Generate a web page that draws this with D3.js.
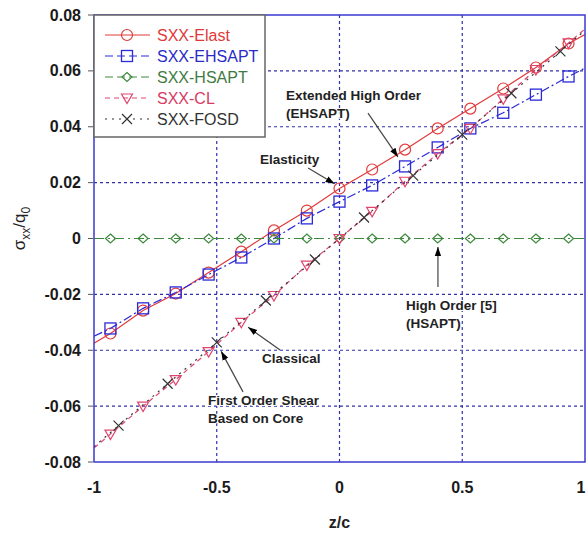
<!DOCTYPE html>
<html>
<head>
<meta charset="utf-8">
<script src="https://cdn.jsdelivr.net/npm/d3@7"></script>
<style>
  body { margin: 0; background: #fff; }
  svg text { font-family: "Liberation Sans", Arial, sans-serif; }
</style>
</head>
<body>
<div id="chart"></div>
<script>
// z/c positions of the markers
const zMark = [-0.933, -0.8, -0.667, -0.533, -0.4, -0.267, -0.133, 0, 0.133, 0.267, 0.4, 0.533, 0.667, 0.8, 0.933];
const zFosd = [-0.9, -0.7, -0.5, -0.3, -0.1, 0.1, 0.3, 0.5, 0.7, 0.9];

// sigma_xx/q0 values (first and last are the line ends at z/c = -1 and 1)
const elastVals  = [-0.0375, -0.034, -0.0258, -0.0197, -0.0122, -0.0047, 0.0029, 0.0100, 0.0179, 0.0247, 0.0318, 0.0394, 0.0465, 0.0537, 0.0612, 0.0698, 0.0730];
const ehsaptVals = [-0.0350, -0.0322, -0.0250, -0.0193, -0.0129, -0.0068, 0.0000, 0.0072, 0.0132, 0.0190, 0.0258, 0.0326, 0.0394, 0.0450, 0.0515, 0.0580, 0.0610];
const hsaptVals  = [0, 0, 0, 0, 0, 0, 0, 0, 0, 0, 0, 0, 0, 0, 0, 0, 0];
const clVals     = [-0.0750, -0.0700, -0.0600, -0.0505, -0.0405, -0.0300, -0.0204, -0.0095, 0.0000, 0.0097, 0.0205, 0.0304, 0.0394, 0.0500, 0.0605, 0.0700, 0.0750];
const fosdVals   = [-0.0745, -0.0670, -0.0520, -0.0372, -0.0222, -0.0075, 0.0075, 0.0225, 0.0372, 0.0520, 0.0670, 0.0745];

const xTicks = [-1, -0.5, 0, 0.5, 1];
const xTickLabels = ["-1", "-0.5", "0", "0.5", "1"];
const yTicks = [-0.08, -0.06, -0.04, -0.02, 0, 0.02, 0.04, 0.06, 0.08];
const yTickLabels = ["-0.08", "-0.06", "-0.04", "-0.02", "0", "0.02", "0.04", "0.06", "0.08"];
const legendNames = ["SXX-Elast", "SXX-EHSAPT", "SXX-HSAPT", "SXX-CL", "SXX-FOSD"];

// annotations: text lines at (tx,ty), arrow from (ax,ay) to (bx,by), all in data units
const notes = [
  {lines: ["Elasticity"], tx: -0.324, ty: 0.0265, ax: -0.128, ay: 0.0252, bx: -0.02, by: 0.0196},
  {lines: ["Extended High Order", "(EHSAPT)"], tx: -0.218, ty: 0.0494, ax: 0.116, ay: 0.0449, bx: 0.238, by: 0.0292},
  {lines: ["High Order [5]", "(HSAPT)"], tx: 0.271, ty: -0.0256, ax: 0.401, ay: -0.0174, bx: 0.401, by: -0.0030},
  {lines: ["Classical"], tx: -0.316, ty: -0.0446, ax: -0.242, ay: -0.0399, bx: -0.372, by: -0.0318},
  {lines: ["First Order Shear", "Based on Core"], tx: -0.536, ty: -0.0596, ax: -0.393, ay: -0.0549, bx: -0.482, by: -0.0404}
];

const W = 587, H = 535;
const margin = {left: 94, right: 2, top: 15, bottom: 73};
const width = W - margin.left - margin.right;
const height = H - margin.top - margin.bottom;

const svg = d3.select("#chart").append("svg").attr("width", W).attr("height", H);
const g = svg.append("g").attr("transform", "translate(" + margin.left + "," + margin.top + ")");

const x = d3.scaleLinear().domain([-1, 1]).range([0, width]);
const y = d3.scaleLinear().domain([-0.08, 0.08]).range([height, 0]);

const axisBlue = "#3a3ad0";
const gridBlue = "#3030a8";

svg.append("defs").append("clipPath").attr("id", "clip")
  .append("rect").attr("width", width).attr("height", height);
svg.select("defs").append("marker")
  .attr("id", "arrow").attr("viewBox", "0 0 10 10").attr("refX", 10).attr("refY", 5)
  .attr("markerWidth", 9).attr("markerHeight", 9).attr("orient", "auto-start-reverse")
  .attr("markerUnits", "userSpaceOnUse")
  .append("path").attr("d", "M0,1.5 L10,5 L0,8.5 Z").attr("fill", "#000");

// grid
g.selectAll(".gy").data(yTicks.filter(d => Math.abs(d) < 0.08 && d !== 0)).enter().append("line")
  .attr("x1", 0).attr("x2", width).attr("y1", d => y(d)).attr("y2", d => y(d))
  .attr("stroke", gridBlue).attr("stroke-width", 1.2).attr("stroke-dasharray", "3,3");
g.selectAll(".gx").data(xTicks.filter(d => Math.abs(d) < 1)).enter().append("line")
  .attr("y1", 0).attr("y2", height).attr("x1", d => x(d)).attr("x2", d => x(d))
  .attr("stroke", gridBlue).attr("stroke-width", 1.2).attr("stroke-dasharray", "3,3");

// series
const series = [
  {name: legendNames[0], z: [-1, ...zMark, 1], v: elastVals,  color: "#e23a3a", text: "#e03838", dash: null, sym: "circle"},
  {name: legendNames[1], z: [-1, ...zMark, 1], v: ehsaptVals, color: "#2a2ad8", text: "#2a2ac8", dash: "9,3,2,3", sym: "square"},
  {name: legendNames[2], z: [-1, ...zMark, 1], v: hsaptVals,  color: "#3d8a3d", text: "#3f7a3f", dash: "10,4,2,4", sym: "diamond"},
  {name: legendNames[3], z: [-1, ...zMark, 1], v: clVals,     color: "#e0456e", text: "#d83a64", dash: "5,4", sym: "tri"},
  {name: legendNames[4], z: [-1, ...zFosd, 1], v: fosdVals,   color: "#333333", text: "#333333", dash: "2,5", sym: "cross"}
];

function drawSymbol(sel, sym, color) {
  if (sym === "circle") {
    sel.append("circle").attr("r", 5.5).attr("fill", "none").attr("stroke", color).attr("stroke-width", 1.2);
  } else if (sym === "square") {
    sel.append("rect").attr("x", -5.5).attr("y", -5.5).attr("width", 11).attr("height", 11)
      .attr("fill", "none").attr("stroke", color).attr("stroke-width", 1.3);
  } else if (sym === "diamond") {
    sel.append("path").attr("d", "M0,-4.5 L5,0 L0,4.5 L-5,0 Z").attr("fill", "none").attr("stroke", color).attr("stroke-width", 1.2);
  } else if (sym === "tri") {
    sel.append("path").attr("d", "M-5.5,-4 L5.5,-4 L0,5.5 Z").attr("fill", "none").attr("stroke", color).attr("stroke-width", 1.2);
  } else {
    sel.append("path").attr("d", "M-5,-5 L5,5 M-5,5 L5,-5").attr("fill", "none").attr("stroke", color).attr("stroke-width", 1.2);
  }
}

const line = d3.line().x(d => x(d[0])).y(d => y(d[1]));
const plot = g.append("g").attr("clip-path", "url(#clip)");

series.forEach(s => {
  const pts = s.z.map((z, i) => [z, s.v[i]]);
  plot.append("path").datum(pts).attr("d", line).attr("fill", "none")
    .attr("stroke", s.color).attr("stroke-width", 1.2)
    .attr("stroke-dasharray", s.dash);
  pts.filter(p => Math.abs(p[0]) < 1).forEach(p => {
    const m = plot.append("g").attr("transform", "translate(" + x(p[0]) + "," + y(p[1]) + ")");
    drawSymbol(m, s.sym, s.color);
  });
});

// frame
g.append("rect").attr("width", width).attr("height", height).attr("fill", "none")
  .attr("stroke", axisBlue).attr("stroke-width", 1.5);

// ticks and labels
g.selectAll(".yt").data(yTicks).enter().append("line")
  .attr("x1", -6).attr("x2", -1).attr("y1", d => y(d)).attr("y2", d => y(d))
  .attr("stroke", "#555").attr("stroke-width", 1);
g.selectAll(".yl").data(yTicks).enter().append("text")
  .attr("x", -13).attr("y", d => y(d) + 5.5).attr("text-anchor", "end")
  .attr("font-size", 16).attr("font-weight", "bold").attr("fill", "#1a1a1a")
  .text((d, i) => yTickLabels[i]);
g.selectAll(".xl").data(xTicks).enter().append("text")
  .attr("x", d => Math.min(x(d), width - 4)).attr("y", height + 31).attr("text-anchor", "middle")
  .attr("font-size", 16).attr("font-weight", "bold").attr("fill", "#1a1a1a")
  .text((d, i) => xTickLabels[i]);

// axis titles
svg.append("text").attr("x", margin.left + width / 2).attr("y", 528).attr("text-anchor", "middle")
  .attr("font-size", 16).attr("font-weight", "bold").attr("fill", "#222").text("z/c");
const yl = svg.append("text").attr("transform", "translate(25," + (margin.top + y(0) - 10) + ") rotate(-90)")
  .attr("text-anchor", "middle").attr("font-size", 17).attr("fill", "#222");
yl.append("tspan").text("σ");
yl.append("tspan").attr("font-size", 12).attr("dy", 5).text("xx");
yl.append("tspan").attr("dy", -5).text("/q");
yl.append("tspan").attr("font-size", 12).attr("dy", 5).text("0");

// annotations
notes.forEach(n => {
  g.append("line").attr("x1", x(n.ax)).attr("y1", y(n.ay)).attr("x2", x(n.bx)).attr("y2", y(n.by))
    .attr("stroke", "#444").attr("stroke-width", 1.2).attr("marker-end", "url(#arrow)");
  n.lines.forEach((t, i) => {
    g.append("text").attr("x", x(n.tx)).attr("y", y(n.ty) + i * 18)
      .attr("font-size", 13.5).attr("font-weight", "bold").attr("fill", "#222")
      .style("paint-order", "stroke").attr("stroke", "#fff").attr("stroke-width", 2)
      .text(t);
  });
});

// legend
const leg = g.append("g");
leg.append("rect").attr("x", 0).attr("y", 0).attr("width", 171).attr("height", 122)
  .attr("fill", "#fff").attr("stroke", "#666").attr("stroke-width", 1.5);
series.forEach((s, i) => {
  const ly = 20 + i * 21;
  leg.append("line").attr("x1", 11).attr("x2", 56).attr("y1", ly).attr("y2", ly)
    .attr("stroke", s.color).attr("stroke-width", 1.2).attr("stroke-dasharray", s.dash ? (s.sym === "cross" ? "2,5" : s.dash === "5,4" ? "5,4" : "8,4") : null);
  const m = leg.append("g").attr("transform", "translate(33," + ly + ")");
  drawSymbol(m, s.sym, s.color);
  leg.append("text").attr("x", 63).attr("y", ly + 6).attr("font-size", 16).attr("fill", s.text).text(s.name);
});
</script>
</body>
</html>
